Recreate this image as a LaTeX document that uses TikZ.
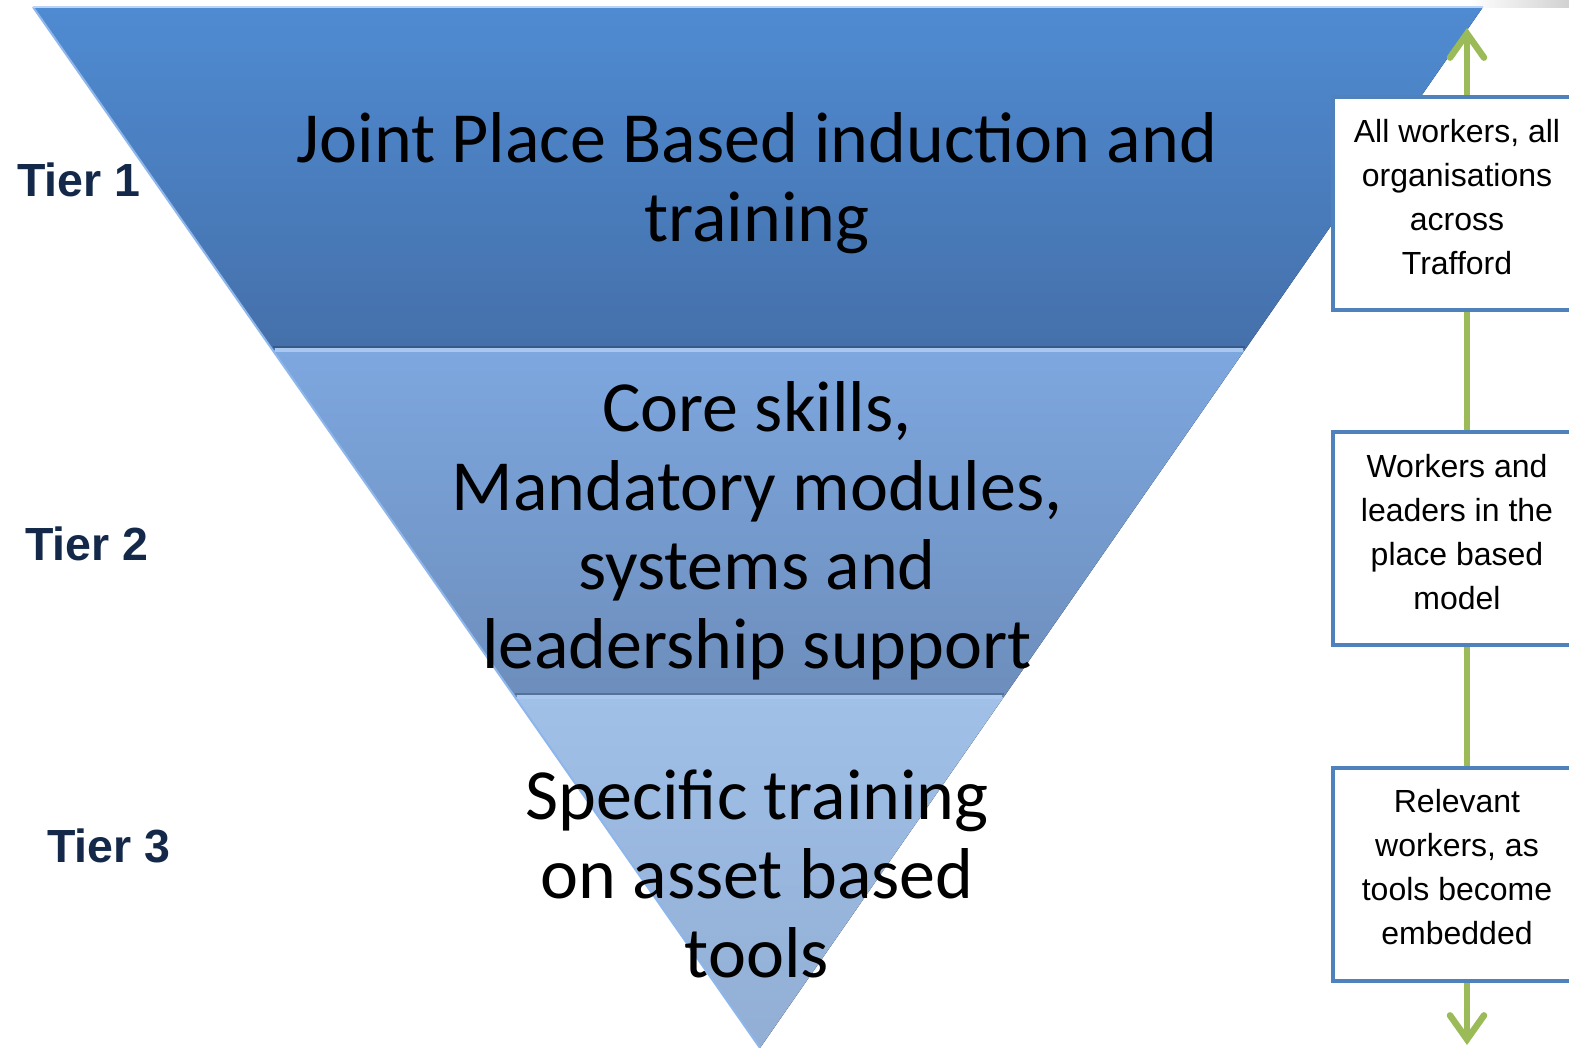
\documentclass[tikz,border=0pt]{standalone}
\usepackage{fontspec}
\setmainfont{Carlito}
\newfontfamily\arial{Liberation Sans}
\usetikzlibrary{arrows.meta,calc}
\definecolor{tAtop}{HTML}{4F8BD2}
\definecolor{tAbot}{HTML}{4570AA}
\definecolor{tBtop}{HTML}{7DA7DF}
\definecolor{tBbot}{HTML}{6D8EBC}
\definecolor{tCtop}{HTML}{A0C0E8}
\definecolor{tCbot}{HTML}{92AED4}
\definecolor{bevel}{HTML}{A8C8F0}
\definecolor{edge}{HTML}{8DB6EC}
\definecolor{boxblue}{HTML}{4F81BD}
\definecolor{arrowgreen}{HTML}{9BBB59}
\definecolor{tiernavy}{HTML}{14294A}
\newcommand{\boxlines}[1]{\raisebox{4pt}[\height][\depth]{\begin{tabular}{@{}c@{}}#1\end{tabular}}}
\tikzset{
  x=1pt, y=-1pt,
  bigtext/.style={font=\fontsize{72}{79}\selectfont, align=center, text=black, inner sep=0pt},
  tierlabel/.style={font=\arial\bfseries\fontsize{46.5}{50}\selectfont, text=tiernavy, inner sep=0pt, anchor=base west},
  sidebox/.style={draw=boxblue, line width=4pt, fill=white, minimum width=248pt, minimum height=213pt,
    font=\arial\fontsize{32}{44}\selectfont, inner sep=0pt},
  greenline/.style={draw=arrowgreen, line width=6.5pt},
  greenarrow/.style={greenline, -{Straight Barb[length=24pt, width=34pt, line cap=round]}}
}
\begin{document}
\begin{tikzpicture}
\useasboundingbox (0,0) rectangle (1569,1048);
\fill[white] (0,0) rectangle (1569,1048);
% faint top strip
\fill[left color=white, right color=black!18] (1470,0) rectangle (1569,8);
% triangle corners
\coordinate (TL) at (33,7);
\coordinate (TR) at (1483,7);
\coordinate (AP) at (760,1048);
\coordinate (L1) at ($(TL)!0.3295!(AP)$);
\coordinate (R1) at ($(TR)!0.3295!(AP)$);
\coordinate (L2) at ($(TL)!0.6628!(AP)$);
\coordinate (R2) at ($(TR)!0.6628!(AP)$);
% tiers
\fill[top color=tAtop, bottom color=tAbot] (TL) -- (TR) -- (R1) -- (L1) -- cycle;
\fill[top color=tBtop, bottom color=tBbot] (L1) -- (R1) -- (R2) -- (L2) -- cycle;
\fill[top color=tCtop, bottom color=tCbot] (L2) -- (R2) -- (AP) -- cycle;
% edges and bevels
\draw[edge, line width=2pt] (TL) -- (AP);
\draw[edge!60!white, line width=1.2pt] (TL) -- (TR);
\draw[bevel, line width=4pt] ($(L1)+(2,0)$) -- ($(R1)+(-2,0)$);
\draw[tAbot!80!black, line width=1.5pt] ($(L1)+(0,-3)$) -- ($(R1)+(0,-3)$);
\draw[bevel, line width=4pt] ($(L2)+(2,0)$) -- ($(R2)+(-2,0)$);
\draw[tBbot!80!black, line width=1.5pt] ($(L2)+(0,-3)$) -- ($(R2)+(0,-3)$);
% tier texts
\node[bigtext] (t1) at (757,183) {Joint Place Based induction and\\training};
\node[bigtext] (t2) at (757,531) {Core skills,\\Mandatory modules,\\systems and\\leadership support};
\node[bigtext] (t3) at (757,874) {Specific training\\on asset based\\tools};
% tier labels
\node[tierlabel] (l1) at (17,197) {Tier 1};
\node[tierlabel] (l2) at (25,560) {Tier 2};
\node[tierlabel] (l3) at (47,862) {Tier 3};
% side boxes
\coordinate (ax) at (1467,0);
\coordinate (topend) at (1467,28);
\coordinate (botend) at (1467,1045);
\node[sidebox] (b1) at (1457,203.5) {\boxlines{All workers, all\\organisations\\across\\Trafford}};
\node[sidebox] (b2) at (1457,538.5) {\boxlines{Workers and\\leaders in the\\place based\\model}};
\node[sidebox] (b3) at (1457,874) {\boxlines{Relevant\\workers, as\\tools become\\embedded}};
% green connectors
\draw[greenarrow] (b1.north -| ax) -- (topend);
\draw[greenline] (b1.south -| ax) -- (b2.north -| ax);
\draw[greenline] (b2.south -| ax) -- (b3.north -| ax);
\draw[greenarrow] (b3.south -| ax) -- (botend);
\end{tikzpicture}
\end{document}
